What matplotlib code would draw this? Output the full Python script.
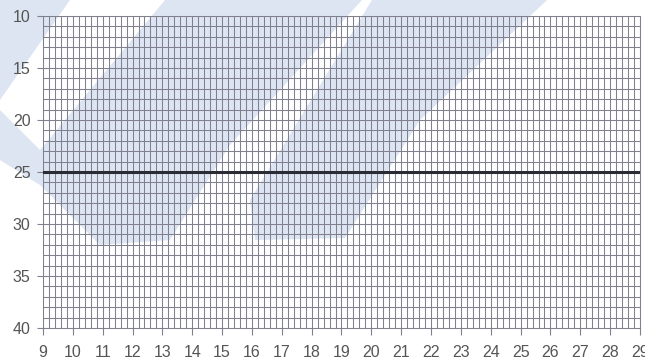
import matplotlib.pyplot as plt
from matplotlib.patches import Polygon
import numpy as np

# chart values
x_ticks = list(range(9, 30))
y_ticks = [10, 15, 20, 25, 30, 35, 40]
line_x = [9, 29]
line_y = [25, 25]

GRID_COLOR = '#80808e'
TEXT_COLOR = '#555555'

plt.rcParams['font.family'] = ['Liberation Sans', 'DejaVu Sans']

fig = plt.figure(figsize=(6.45, 3.63), dpi=100)
fig.patch.set_facecolor('white')

# faint blue watermark bands, drawn in a background axes (pixel coords, top-left origin)
W, H = 645, 363
bg = fig.add_axes([0, 0, 1, 1], zorder=-1)
bg.set_xlim(0, W)
bg.set_ylim(H, 0)
bg.axis('off')
bands = [
    [(0, 0), (70, 0), (0, 100)],
    [(0, 110), (0, 160), (40, 185), (100, 245), (170, 240), (230, 145), (362, 0), (165, 0), (40, 150)],
    [(372, 0), (547, 0), (420, 120), (345, 238), (255, 240), (250, 200)],
]
for pts in bands:
    bg.add_patch(Polygon(pts, closed=True, facecolor='#dde5f3', edgecolor='none'))

ax = fig.add_axes([43 / W, 1 - 328 / H, (640 - 43) / W, (328 - 16) / H], zorder=1)
ax.set_facecolor('none')

ax.set_xlim(9, 29)
ax.set_ylim(40, 10)

# graph-paper grid: vertical every 0.2, horizontal every 1
for xv in np.arange(9, 29.001, 0.2):
    ax.axvline(xv, color=GRID_COLOR, lw=0.75, zorder=1)
for yv in np.arange(10, 40.001, 1):
    ax.axhline(yv, color=GRID_COLOR, lw=0.75, zorder=1)

ax.plot(line_x, line_y, color='#2b2b33', lw=2.2, zorder=3)

ax.set_xticks(x_ticks)
ax.set_yticks(y_ticks)
ax.tick_params(axis='both', direction='out', width=0.8, color=GRID_COLOR,
               labelcolor=TEXT_COLOR, labelsize=11.5)
ax.tick_params(axis='x', length=5, pad=7)
ax.tick_params(axis='y', length=4, pad=5)
for s in ax.spines.values():
    s.set_color(GRID_COLOR)
    s.set_linewidth(0.75)

fig.savefig('out.png', dpi=100)
